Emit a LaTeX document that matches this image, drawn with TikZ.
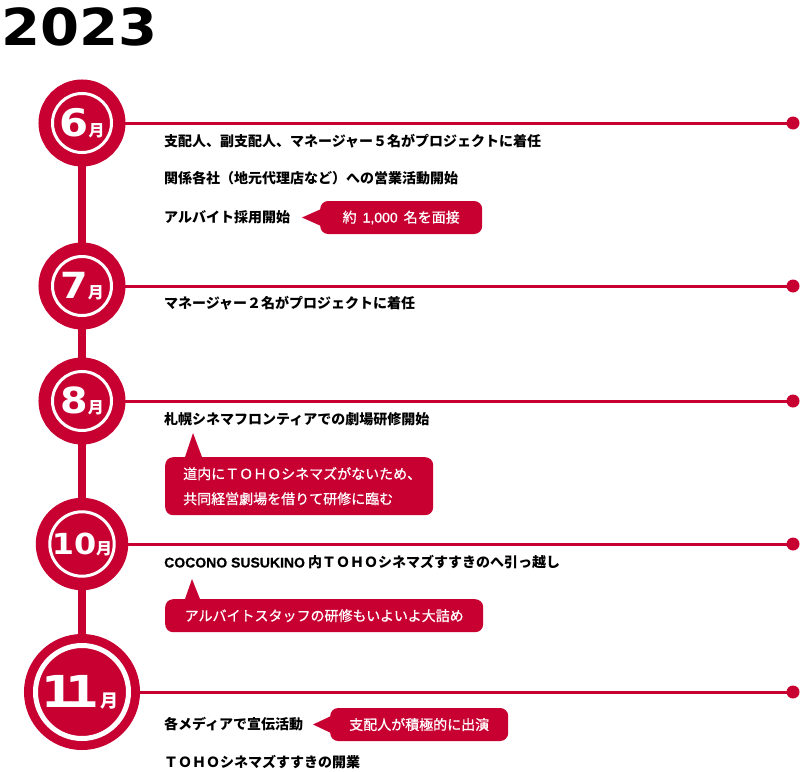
\documentclass[tikz,border=0pt]{standalone}
\usepackage{fontspec}
\setmainfont{Noto Sans CJK JP}
\newfontfamily\yearfont{DejaVu Sans}[FakeStretch=1.1]
\newfontfamily\balloonfont{Noto Sans CJK JP}[FakeBold=0.8]
\newfontfamily\latinfont{Liberation Sans}[FakeBold=0.8]
\usetikzlibrary{backgrounds}
\definecolor{tohored}{RGB}{200,0,50}
\newcommand\monthlabel[2][36]{{\yearfont\bfseries\fontsize{#1}{#1}\selectfont #2}{\bfseries\fontsize{16}{16}\selectfont 月}}
\newcommand\bigmonthlabel[1]{{\yearfont\bfseries\fontsize{44}{44}\selectfont #1}{\bfseries\fontsize{18}{18}\selectfont 月}}
\tikzset{
  month/.style={circle, fill=tohored, draw=tohored, double=white, double distance=3pt,
    line width=12.5pt, minimum size=59pt, inner sep=0pt, outer sep=0pt, text=white},
  bigmonth/.style={month, double distance=5pt, line width=9pt, minimum size=93pt},
  event/.style={anchor=west, inner sep=0pt, font=\fontsize{14}{16}\selectfont\bfseries},
  balloon/.style={fill=tohored, rounded corners=8pt, text=white, inner sep=0pt,
    minimum height=33pt, font=\balloonfont\fontsize{14}{25}\selectfont},
  pointer/.style={fill=tohored},
  timeline/.style={draw=tohored, line width=3pt},
  stem/.style={draw=tohored, line width=8pt},
  enddot/.style={circle, fill=tohored, minimum size=13pt, inner sep=0pt}
}
\begin{document}
\begin{tikzpicture}[x=1pt, y=-1pt]
\useasboundingbox (0,0) rectangle (803,771);

\node[anchor=base west, inner sep=0pt, font=\yearfont\bfseries\fontsize{51}{51}\selectfont] (year) at (1,45) {2023};

\node[month] (m6) at (82,123) {\monthlabel[38]{6}};
\node[month] (m7) at (82,286) {\monthlabel{7}};
\node[month] (m8) at (82,401) {\monthlabel{8}};
\node[month] (m10) at (82,544) {\monthlabel[29]{10}};
\node[bigmonth] (m11) at (82,692) {\bigmonthlabel{\kern-4pt1\kern-10pt1\kern1pt}};

\node[enddot] (d6) at (793,123) {};
\node[enddot] (d7) at (793,286) {};
\node[enddot] (d8) at (793,401) {};
\node[enddot] (d10) at (793,544) {};
\node[enddot] (d11) at (793,692) {};

\begin{scope}[on background layer]
\draw[stem] (m6.center) -- (m7.center) -- (m8.center) -- (m10.center) -- (m11.center);
\foreach \m in {6,7,8,10,11}
  \draw[timeline] (m\m.center) -- (d\m.center);
\end{scope}

\node[event] (e6a) at (164,141) {支配人、副支配人、マネージャー５名がプロジェクトに着任};
\node[event] (e6b) at (164,178) {関係各社（地元代理店など）への営業活動開始};
\node[event] (e6c) at (164,217) {アルバイト採用開始};
\node[event] (e7) at (164,303) {マネージャー２名がプロジェクトに着任};
\node[event] (e8) at (164,419) {札幌シネマフロンティアでの劇場研修開始};
\node[event] (e10) at (164,562) {{\latinfont COCONO SUSUKINO} 内ＴＯＨＯシネマズすすきのへ引っ越し};
\node[event] (e11a) at (164,724) {各メディアで宣伝活動};
\node[event] (e11b) at (164,762) {ＴＯＨＯシネマズすすきの開業};

\node[balloon, anchor=west, minimum width=162pt] (b6) at (320,217.5) {約\hspace{6pt}{\latinfont 1,000}\hspace{6pt}名を面接};
\fill[pointer] ([yshift=-8pt]b6.west) -- ([xshift=-18pt]b6.west) -- ([yshift=8pt]b6.west) -- cycle;

\node[balloon, anchor=north west, minimum height=58pt, inner xsep=18pt, text width=232pt, align=left] (b8) at (165,457)
  {道内にＴＯＨＯシネマズがないため、\\共同経営劇場を借りて研修に臨む};
\fill[pointer] ([xshift=20pt]b8.north west) -- ([xshift=28pt,yshift=24pt]b8.north west) -- ([xshift=37pt]b8.north west) -- cycle;

\node[balloon, anchor=north west, minimum width=318pt] (b10) at (165,599) {アルバイトスタッフの研修もいよいよ大詰め};
\fill[pointer] ([xshift=20pt]b10.north west) -- ([xshift=27pt,yshift=20pt]b10.north west) -- ([xshift=35pt]b10.north west) -- cycle;

\node[balloon, anchor=west, minimum width=178pt] (b11) at (330,724.5) {支配人が積極的に出演};
\fill[pointer] ([yshift=-8pt]b11.west) -- ([xshift=-17pt]b11.west) -- ([yshift=8pt]b11.west) -- cycle;
\end{tikzpicture}
\end{document}
